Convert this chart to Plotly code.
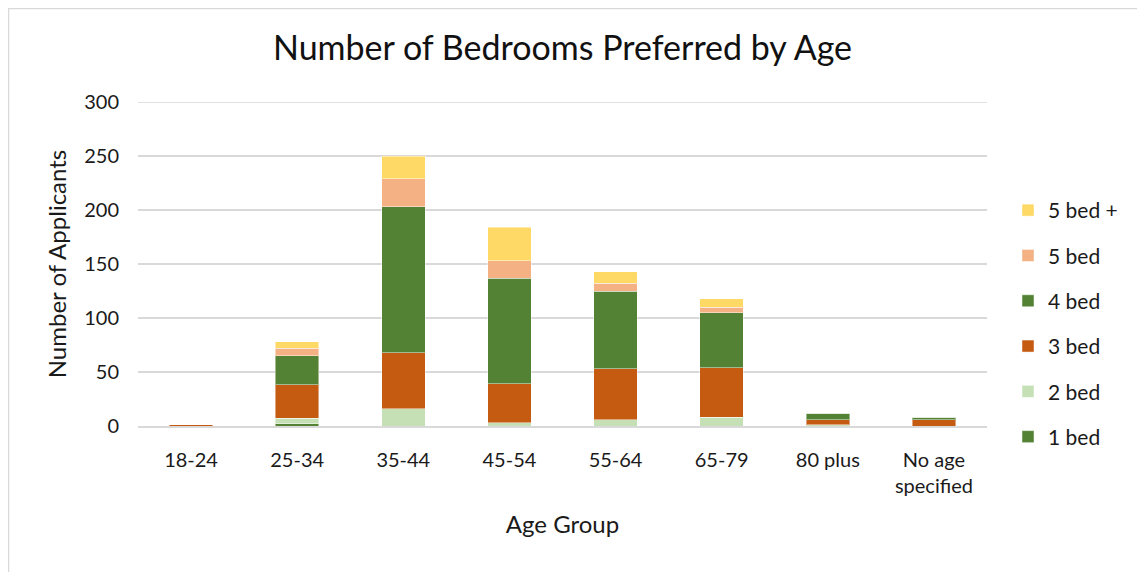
import plotly.graph_objects as go

categories = ["18-24", "25-34", "35-44", "45-54", "55-64", "65-79", "80 plus", "No age<br>specified"]
bed1 = [0, 2, 0, 0, 0, 0, 0, 0]
bed2 = [0, 5, 16, 3, 6, 8, 1, 0]
bed3 = [1, 31, 52, 36, 47, 46, 5, 6]
bed4 = [0, 27, 135, 98, 72, 51, 6, 2]
bed5 = [0, 7, 26, 16, 7, 5, 0, 0]
bed5plus = [0, 6, 21, 31, 11, 8, 0, 0]

series = [
    ("1 bed", bed1, "#548235"),
    ("2 bed", bed2, "#C5E0B4"),
    ("3 bed", bed3, "#C55A11"),
    ("4 bed", bed4, "#548235"),
    ("5 bed", bed5, "#F4B183"),
    ("5 bed +", bed5plus, "#FFD966"),
]

FONT = "Lato"
OFF = 8  # page body margin
W, H = 1145 - OFF, 572 - OFF
L, T = 138 - OFF, 102 - OFF
R = W - (987 - OFF)
B = H - (426 - OFF)
pw, ph = W - L - R, H - T - B
YMAX = 300

def px_x(p):
    return (p - OFF - L) / pw

def px_y(p):
    return (H - B - (p - OFF)) / ph

fig = go.Figure()
n = len(series)
for i, (name, vals, col) in enumerate(series):
    fig.add_trace(go.Bar(
        x=categories, y=vals, name=name, legendgroup=name, legendrank=n - i,
        marker=dict(color=col, line=dict(color="rgba(255,255,255,0.45)", width=1)),
    ))

fig.update_layout(
    width=W, height=H,
    barmode="stack", bargap=0.59,
    margin=dict(l=L, r=R, t=T, b=B, autoexpand=False),
    paper_bgcolor="white", plot_bgcolor="white",
    font=dict(family=FONT, size=20, color="#1a1a1a"),
    title=dict(text="Number of Bedrooms Preferred by Age", x=0.5, xanchor="center",
               xref="paper", y=1 - (48 - OFF) / H, yref="container", yanchor="middle",
               font=dict(size=34, family=FONT, color="#111111")),
    xaxis=dict(
        showgrid=False, showline=True, linecolor="#d9d9d9", linewidth=1.5,
        ticks="", ticklabelstandoff=15, tickfont=dict(size=20, color="#1a1a1a"),
        title=dict(text="Age Group", font=dict(size=24, color="#1a1a1a"), standoff=20),
    ),
    yaxis=dict(
        range=[0, YMAX], dtick=50, showgrid=True, gridcolor="#d9d9d9", gridwidth=1.5,
        zeroline=False, showline=False, ticks="", ticklabelstandoff=18,
        tickfont=dict(size=20, color="#1a1a1a"),
        title=dict(text="Number of Applicants", font=dict(size=24, color="#1a1a1a"), standoff=10),
    ),
    legend=dict(
        traceorder="grouped", tracegroupgap=15,
        x=px_x(1008), xanchor="left", y=px_y(323.5), yanchor="middle",
        font=dict(size=21, color="#1a1a1a"), bgcolor="rgba(0,0,0,0)",
    ),
    shapes=[
        dict(type="line", xref="paper", yref="y", x0=0, x1=1, y0=YMAX, y1=YMAX,
             line=dict(color="#d9d9d9", width=1.5), layer="below"),
        dict(type="line", xref="paper", yref="paper", x0=px_x(OFF), x1=px_x(1145), y0=px_y(OFF + 0.5), y1=px_y(OFF + 0.5),
             line=dict(color="#d9d9d9", width=1.5)),
        dict(type="line", xref="paper", yref="paper", x0=px_x(OFF + 0.5), x1=px_x(OFF + 0.5), y0=px_y(OFF), y1=px_y(572),
             line=dict(color="#d9d9d9", width=1.5)),
    ],
)

fig.write_html("out.html")
